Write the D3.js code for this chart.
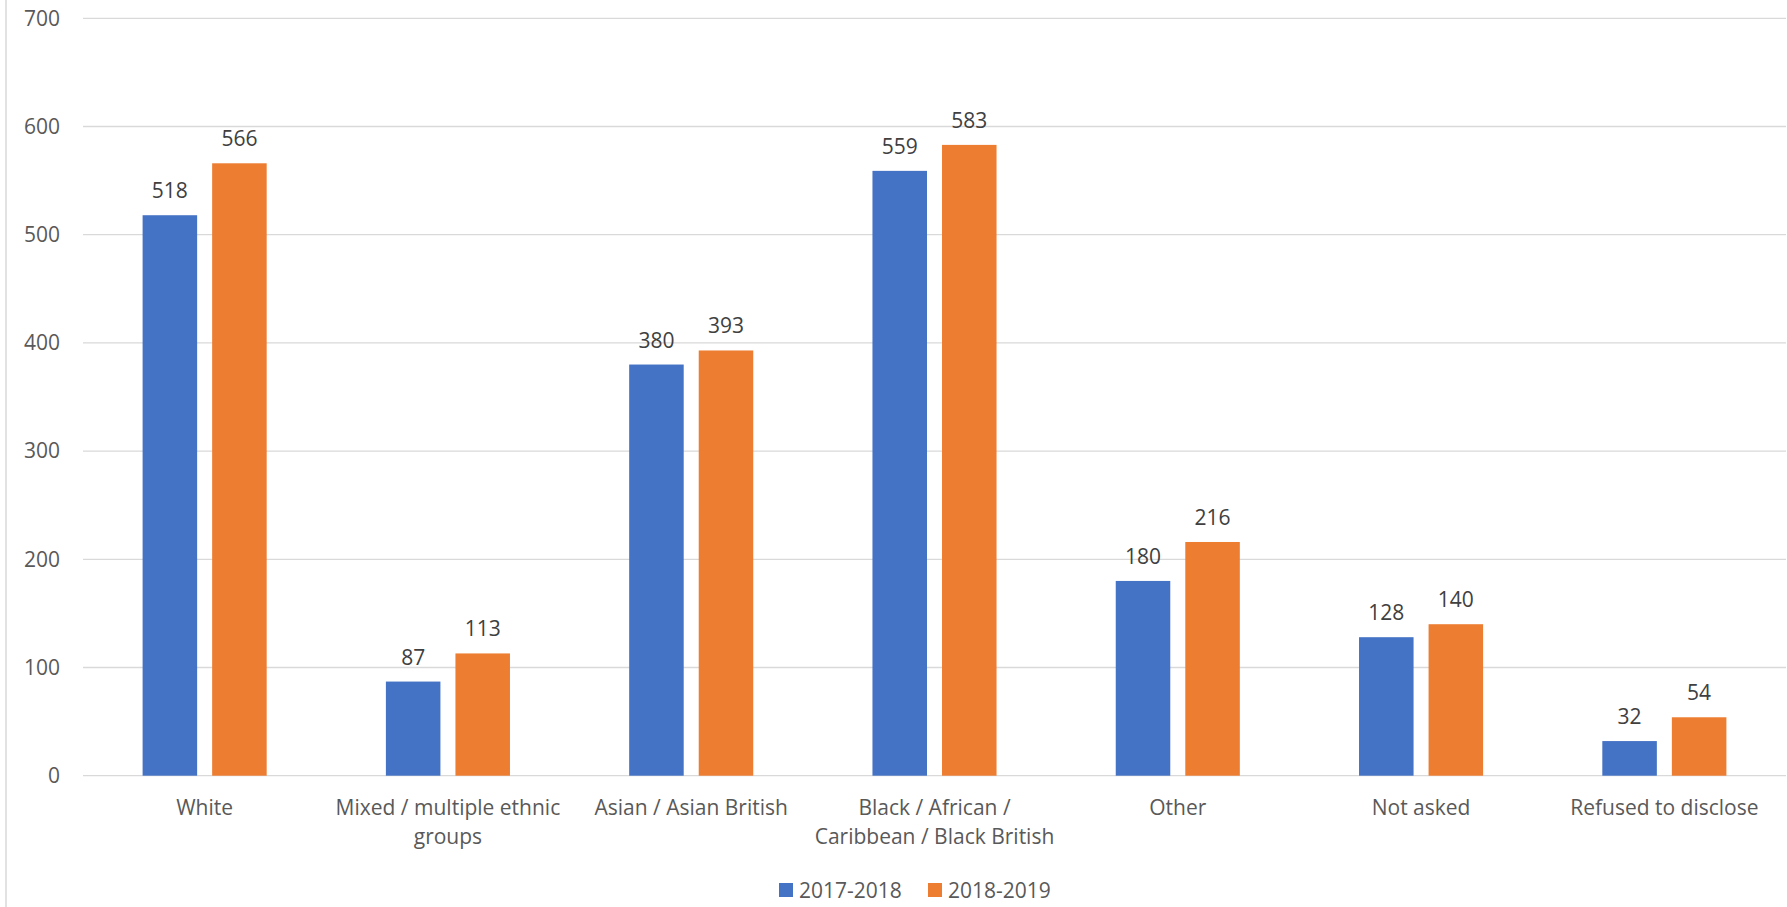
<!DOCTYPE html>
<html>
<head>
<meta charset="utf-8">
<script src="https://cdn.jsdelivr.net/npm/d3@7"></script>
<style>
  body { margin: 0; background: #fff; }
  text { font-family: "Open Sans", sans-serif; }
</style>
</head>
<body>
<div id="container"></div>
<script>
const categories = ["White", "Mixed / multiple ethnic groups", "Asian / Asian British",
  "Black / African / Caribbean / Black British", "Other", "Not asked", "Refused to disclose"];
// wrapped lines for the category tick labels
const tickLabels = [
  ["White"],
  ["Mixed / multiple ethnic", "groups"],
  ["Asian / Asian British"],
  ["Black / African /", "Caribbean / Black British"],
  ["Other"],
  ["Not asked"],
  ["Refused to disclose"]
];
const series = ["2017-2018", "2018-2019"];
const values2017 = [518, 87, 380, 559, 180, 128, 32];
const values2018 = [566, 113, 393, 583, 216, 140, 54];
const yTicks = [0, 100, 200, 300, 400, 500, 600, 700];
const colors = ["#4472C4", "#ED7D31"];

const width = 1787;
const height = 907;
const marginTop = 18.3;
const marginRight = 1;
const marginBottom = 131.3;
const marginLeft = 83;

const data = categories.map((c, i) => ({cat: c, lines: tickLabels[i], vals: [values2017[i], values2018[i]]}));

const x0 = d3.scaleBand(categories, [marginLeft, width - marginRight]).paddingInner(0.49).paddingOuter(0.245);
const x1 = d3.scaleBand(series, [0, x0.bandwidth()]).paddingInner(0.216);
const y = d3.scaleLinear([0, 700], [height - marginBottom, marginTop]);

const svg = d3.create("svg")
  .attr("width", width)
  .attr("height", height);

// left border of the chart area
svg.append("line")
  .attr("x1", 6).attr("x2", 6)
  .attr("y1", 0).attr("y2", height)
  .attr("stroke", "#d9d9d9")
  .attr("stroke-width", 1.5);

// gridlines
svg.append("g")
  .selectAll("line")
  .data(yTicks)
  .join("line")
    .attr("x1", marginLeft)
    .attr("x2", width - marginRight)
    .attr("y1", d => y(d))
    .attr("y2", d => y(d))
    .attr("stroke", "#d9d9d9")
    .attr("stroke-width", 1.3);

// y axis labels
const yAxis = svg.append("g")
  .attr("transform", `translate(${marginLeft},0)`)
  .call(d3.axisLeft(y).tickValues(yTicks).tickSize(0).tickPadding(23));
yAxis.select(".domain").remove();
yAxis.selectAll("text")
  .attr("fill", "#595959")
  .style("font-family", "Open Sans")
  .style("font-size", "21px");

// bars
const groups = svg.append("g")
  .selectAll("g")
  .data(data)
  .join("g")
    .attr("transform", d => `translate(${x0(d.cat)},0)`);

groups.selectAll("rect")
  .data(d => d.vals.map((v, i) => ({s: series[i], v, i})))
  .join("rect")
    .attr("x", d => x1(d.s))
    .attr("y", d => y(d.v))
    .attr("width", x1.bandwidth())
    .attr("height", d => y(0) - y(d.v))
    .attr("fill", d => colors[d.i]);

groups.selectAll("text.val")
  .data(d => d.vals.map((v, i) => ({s: series[i], v, i})))
  .join("text")
    .attr("class", "val")
    .attr("x", d => x1(d.s) + x1.bandwidth() / 2)
    .attr("y", d => y(d.v) - 17)
    .attr("text-anchor", "middle")
    .attr("fill", "#404040")
    .style("font-size", "21px")
    .text(d => d.v);

// category labels
const xLabels = svg.append("g")
  .selectAll("text")
  .data(data)
  .join("text")
    .attr("x", d => x0(d.cat) + x0.bandwidth() / 2)
    .attr("y", y(0) + 39)
    .attr("text-anchor", "middle")
    .attr("fill", "#595959")
    .style("font-size", "21px");
xLabels.selectAll("tspan")
  .data(d => d.lines)
  .join("tspan")
    .attr("x", function() { return this.parentNode.getAttribute("x"); })
    .attr("dy", (d, i) => i === 0 ? 0 : 29.5)
    .text(d => d);

// legend
const legend = svg.append("g")
  .selectAll("g")
  .data(series)
  .join("g")
    .attr("transform", (d, i) => `translate(${779 + i * 149},0)`);
legend.append("rect")
  .attr("y", 883)
  .attr("width", 14)
  .attr("height", 14)
  .attr("fill", (d, i) => colors[i]);
legend.append("text")
  .attr("x", 20)
  .attr("y", 898)
  .attr("fill", "#595959")
  .style("font-size", "21px")
  .text(d => d);

document.getElementById("container").append(svg.node());
</script>
</body>
</html>
